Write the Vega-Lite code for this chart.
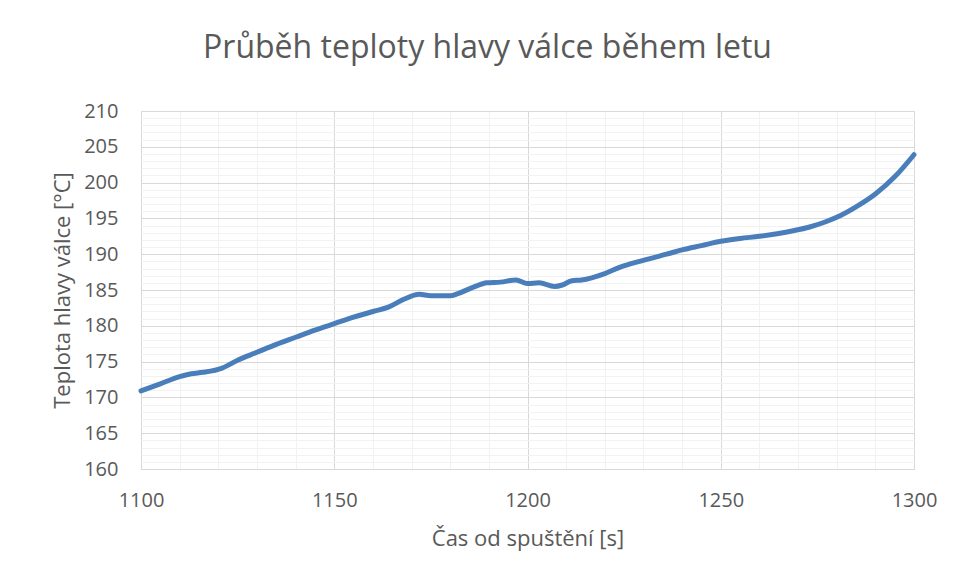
{
  "$schema": "https://vega.github.io/schema/vega-lite/v6.json",
  "width": 773,
  "height": 358,
  "autosize": {"type": "none"},
  "padding": {"left": 141, "top": 111, "right": 41, "bottom": 112},
  "background": "white",
  "title": {
    "text": "Průběh teploty hlavy válce během letu",
    "font": "Open Sans",
    "fontSize": 32,
    "fontWeight": "normal",
    "color": "#595959",
    "anchor": "middle",
    "baseline": "alphabetic",
    "offset": 11,
    "dx": -40
  },
  "config": {
    "view": {"stroke": "#D9D9D9", "strokeWidth": 1},
    "axis": {
      "labelFont": "Open Sans",
      "labelFontSize": 20,
      "labelColor": "#595959",
      "titleFont": "Open Sans",
      "titleFontSize": 22,
      "titleFontWeight": "normal",
      "titleColor": "#595959",
      "ticks": false,
      "tickSize": 0,
      "domain": false
    }
  },
  "data": {
    "values": [
      {"t": 1100, "temp": 170.9},
      {"t": 1105, "temp": 171.9},
      {"t": 1110, "temp": 172.9},
      {"t": 1113, "temp": 173.3},
      {"t": 1116, "temp": 173.5},
      {"t": 1121, "temp": 174.1},
      {"t": 1125, "temp": 175.2},
      {"t": 1130, "temp": 176.3},
      {"t": 1135, "temp": 177.4},
      {"t": 1140, "temp": 178.4},
      {"t": 1145, "temp": 179.4},
      {"t": 1150, "temp": 180.3},
      {"t": 1155, "temp": 181.2},
      {"t": 1160, "temp": 182.0},
      {"t": 1164, "temp": 182.6},
      {"t": 1168, "temp": 183.7},
      {"t": 1172, "temp": 184.4},
      {"t": 1175, "temp": 184.2},
      {"t": 1180, "temp": 184.2},
      {"t": 1182, "temp": 184.5},
      {"t": 1186, "temp": 185.4},
      {"t": 1189.5, "temp": 186.0},
      {"t": 1193, "temp": 186.1},
      {"t": 1197, "temp": 186.4},
      {"t": 1200, "temp": 185.9},
      {"t": 1203, "temp": 186.0},
      {"t": 1207, "temp": 185.5},
      {"t": 1209, "temp": 185.7},
      {"t": 1211.5, "temp": 186.3},
      {"t": 1214, "temp": 186.4},
      {"t": 1220, "temp": 187.3},
      {"t": 1224, "temp": 188.2},
      {"t": 1229, "temp": 189.0},
      {"t": 1236, "temp": 190.0},
      {"t": 1240, "temp": 190.6},
      {"t": 1245, "temp": 191.2},
      {"t": 1250, "temp": 191.8},
      {"t": 1255, "temp": 192.2},
      {"t": 1260, "temp": 192.5},
      {"t": 1265, "temp": 192.9},
      {"t": 1269, "temp": 193.3},
      {"t": 1273, "temp": 193.8},
      {"t": 1277, "temp": 194.5},
      {"t": 1281, "temp": 195.4},
      {"t": 1285, "temp": 196.6},
      {"t": 1290, "temp": 198.4},
      {"t": 1295, "temp": 200.8},
      {"t": 1300, "temp": 203.9}
    ]
  },
  "mark": {"type": "line", "color": "#4A7EBB", "strokeWidth": 5, "interpolate": "monotone", "strokeCap": "round", "strokeJoin": "round"},
  "encoding": {
    "x": {
      "field": "t",
      "type": "quantitative",
      "scale": {"domain": [1100, 1300], "nice": false, "zero": false},
      "axis": {
        "title": "Čas od spuštění [s]",
        "format": "d",
        "values": [1100,1110,1120,1130,1140,1150,1160,1170,1180,1190,1200,1210,1220,1230,1240,1250,1260,1270,1280,1290,1300],
        "labelExpr": "datum.value % 50 === 0 ? datum.label : ''",
        "grid": true,
        "gridColor": {"condition": {"test": "datum.value % 50 === 0", "value": "#D9D9D9"}, "value": "#F2F2F2"},
        "gridWidth": 1,
        "labelPadding": 21,
        "titlePadding": 18,
        "labelFlush": false,
        "labelOverlap": false
      }
    },
    "y": {
      "field": "temp",
      "type": "quantitative",
      "scale": {"domain": [160, 210], "nice": false, "zero": false},
      "axis": {
        "title": "Teplota hlavy válce [°C]",
        "values": [160,161,162,163,164,165,166,167,168,169,170,171,172,173,174,175,176,177,178,179,180,181,182,183,184,185,186,187,188,189,190,191,192,193,194,195,196,197,198,199,200,201,202,203,204,205,206,207,208,209,210],
        "labelExpr": "datum.value % 5 === 0 ? datum.label : ''",
        "grid": true,
        "gridColor": {"condition": {"test": "datum.value % 5 === 0", "value": "#D9D9D9"}, "value": "#F2F2F2"},
        "gridWidth": 1,
        "labelPadding": 23,
        "titlePadding": 9,
        "labelOverlap": false
      }
    }
  }
}
